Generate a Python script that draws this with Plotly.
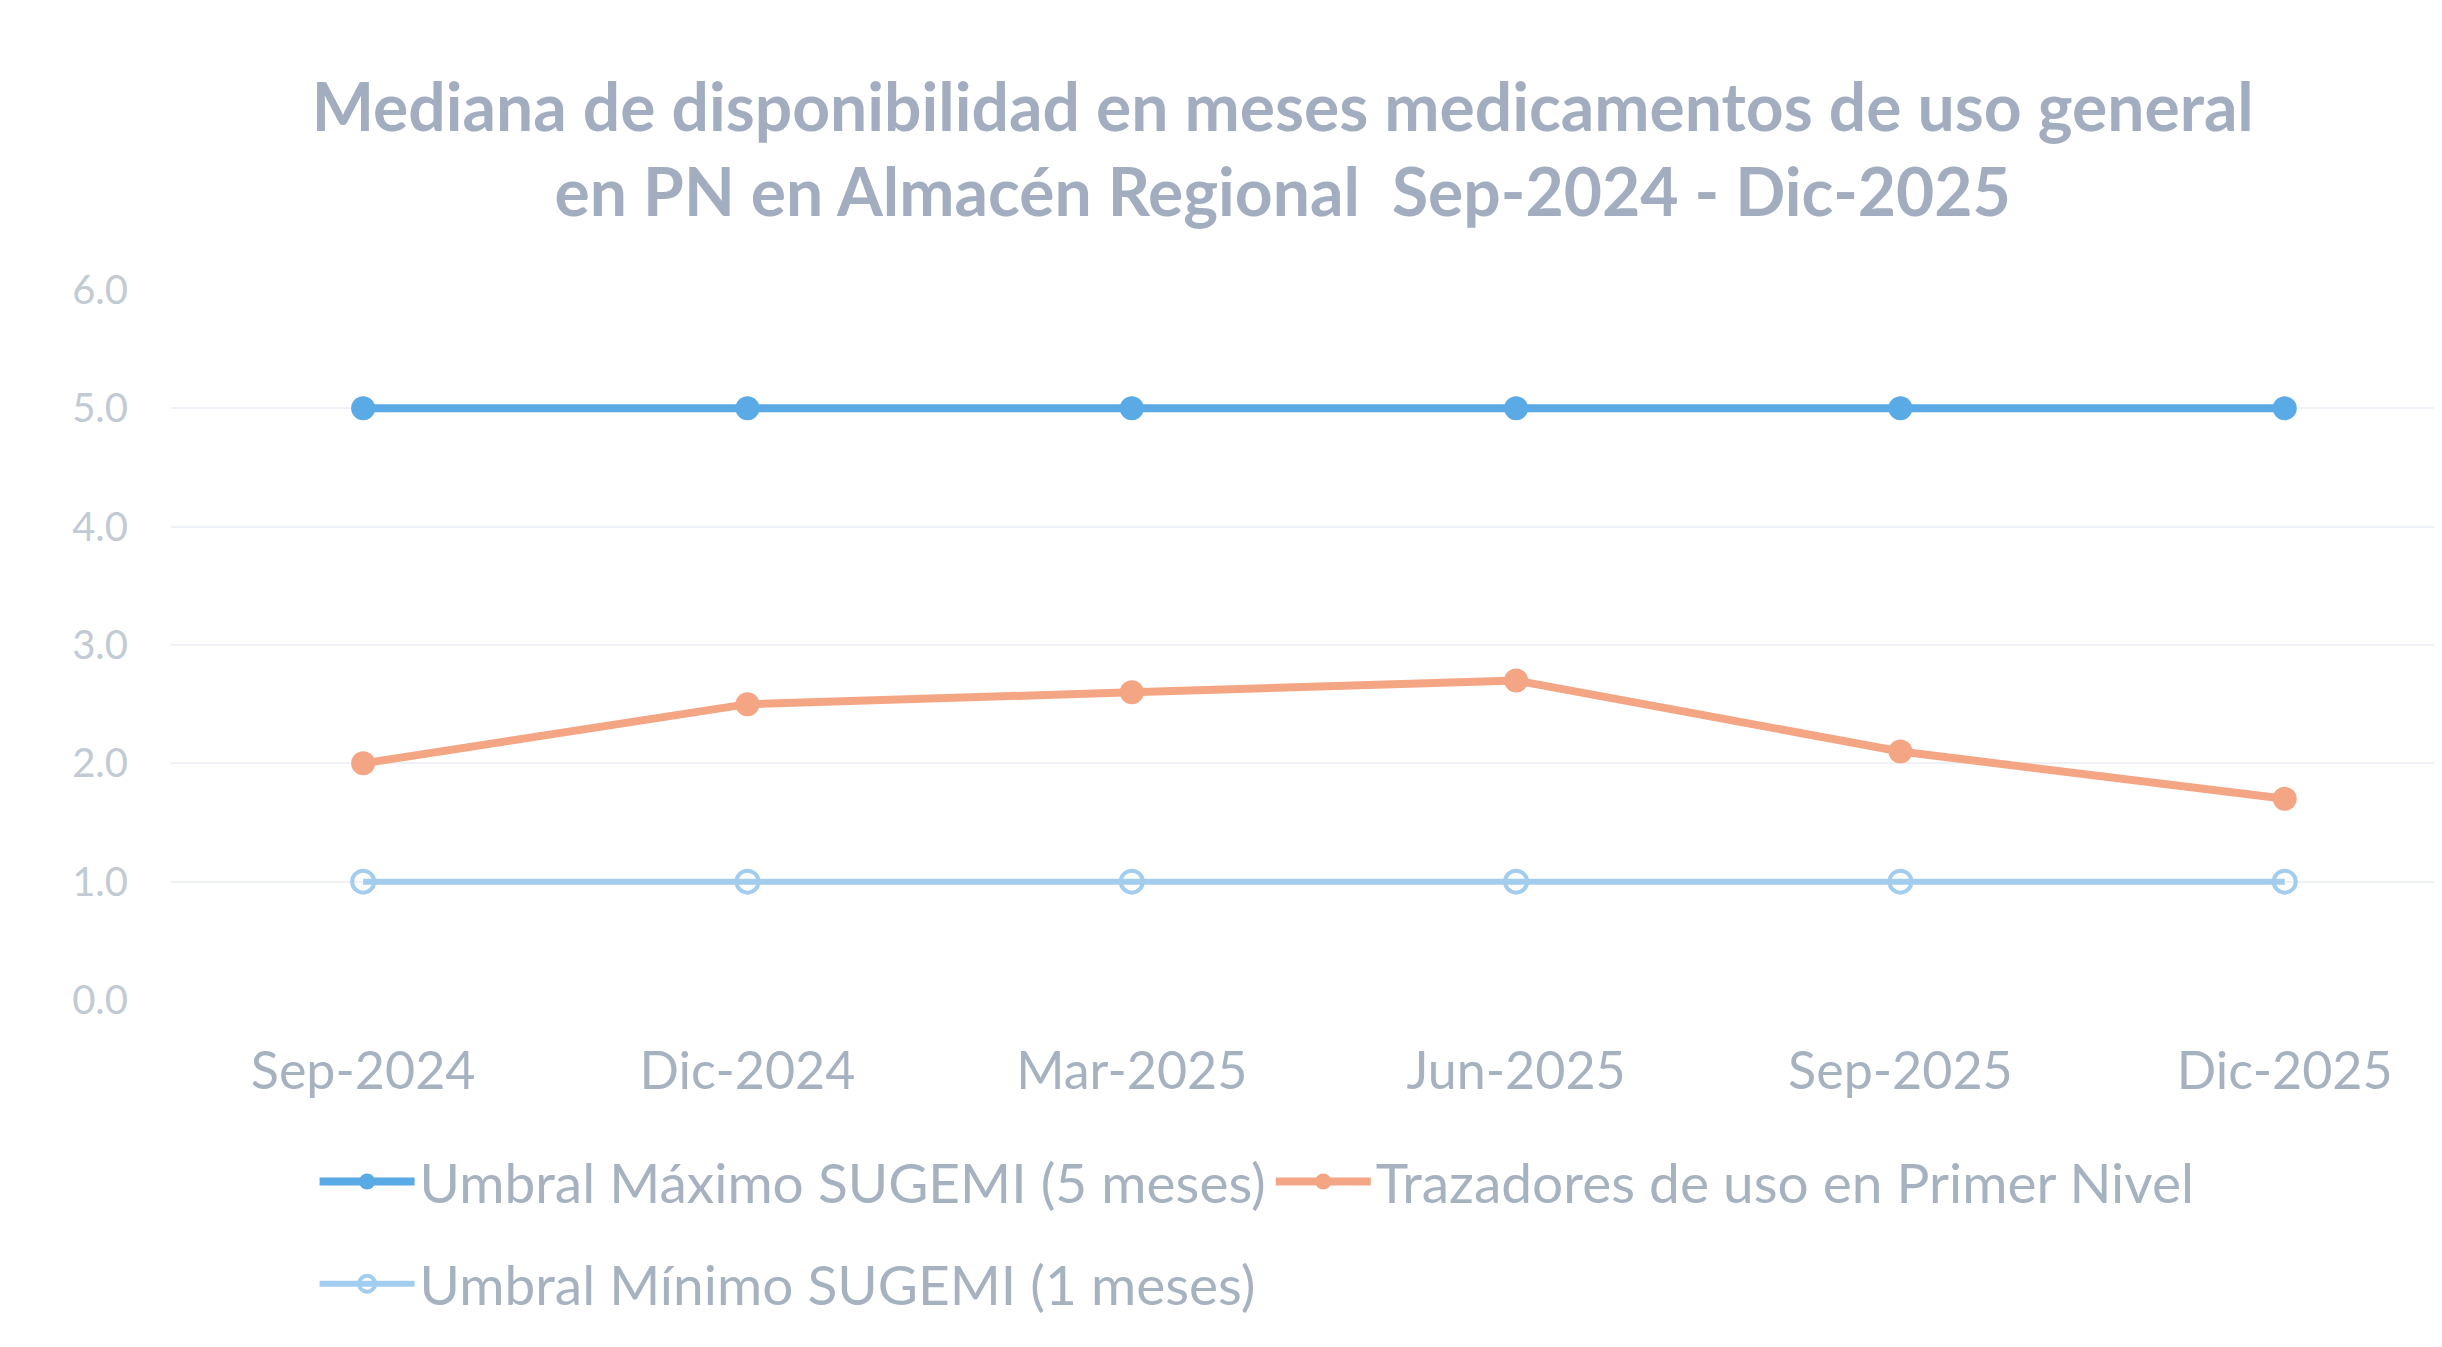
import plotly.graph_objects as go

categories = ["Sep-2024", "Dic-2024", "Mar-2025", "Jun-2025", "Sep-2025", "Dic-2025"]
umbral_max = [5.0, 5.0, 5.0, 5.0, 5.0, 5.0]
trazadores = [2.0, 2.5, 2.6, 2.7, 2.1, 1.7]
umbral_min = [1.0, 1.0, 1.0, 1.0, 1.0, 1.0]
y_ticks = [0, 1, 2, 3, 4, 5, 6]

FONT = "Lato, Carlito, 'Open Sans', sans-serif"
TXT = "#a7b2c1"

fig = go.Figure()
fig.add_trace(go.Scatter(
    x=categories, y=umbral_max, mode="lines+markers",
    name="Umbral Máximo SUGEMI (5 meses)",
    line=dict(color="#5aaae6", width=8),
    marker=dict(symbol="circle", size=24, color="#5aaae6"),
    legend="legend",
))
fig.add_trace(go.Scatter(
    x=categories, y=trazadores, mode="lines+markers",
    name="Trazadores de uso en Primer Nivel",
    line=dict(color="#f4a584", width=8),
    marker=dict(symbol="circle", size=24, color="#f4a584"),
    legend="legend",
))
fig.add_trace(go.Scatter(
    x=categories, y=umbral_min, mode="lines+markers",
    name="Umbral Mínimo SUGEMI (1 meses)",
    line=dict(color="#a3cdee", width=6),
    marker=dict(symbol="circle-open", size=22, color="#a3cdee", line=dict(width=4)),
    legend="legend2",
))

legend_common = dict(
    orientation="h", xanchor="left", yanchor="middle",
    font=dict(family=FONT, size=55, color=TXT),
    itemwidth=95, bgcolor="rgba(0,0,0,0)",
)

fig.update_layout(
    width=2442, height=1347,
    paper_bgcolor="white", plot_bgcolor="white",
    margin=dict(l=163, r=0, t=282, b=355),
    title=dict(
        text="<b>Mediana de disponibilidad en meses medicamentos de uso general<br>en PN en Almacén Regional  Sep-2024 - Dic-2025</b>",
        x=0.522, xanchor="center", y=0.909, yanchor="top",
        font=dict(family=FONT, size=66, color="#a2aec0"),
    ),
    xaxis=dict(
        type="category", range=[-0.5, 5.43],
        showgrid=False, zeroline=False, showline=False,
        tickfont=dict(family=FONT, size=52, color=TXT),
        ticks="", ticklabelstandoff=36,
    ),
    yaxis=dict(
        range=[0, 6], tickvals=y_ticks, tickformat=".1f",
        showgrid=True, gridcolor="#eef2f6", gridwidth=2,
        zeroline=False, showline=False,
        tickfont=dict(family=FONT, size=40, color="#c2cad4"),
        ticks="", ticklabelstandoff=42,
    ),
    legend=dict(x=0.063, y=-0.256, **legend_common),
    legend2=dict(x=0.063, y=-0.400, **legend_common),
    showlegend=True,
)

fig.write_html("out.html")
